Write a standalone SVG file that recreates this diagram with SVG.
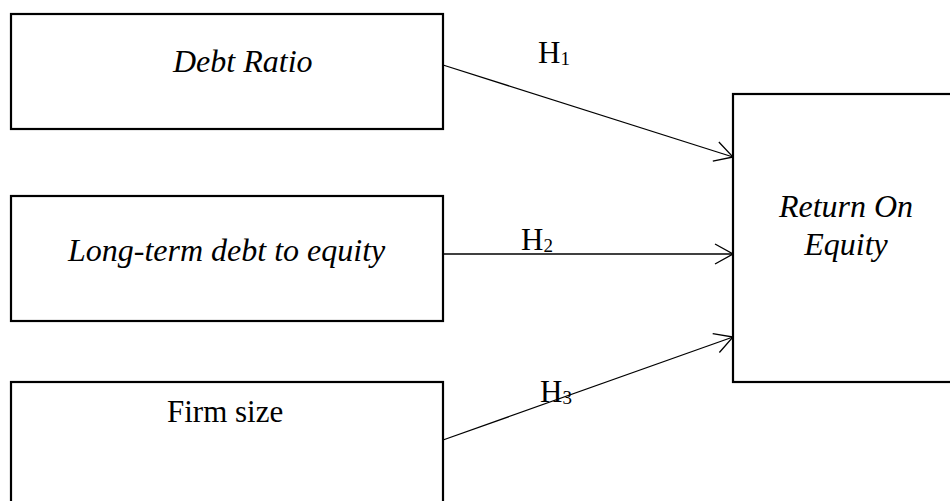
<svg xmlns="http://www.w3.org/2000/svg" width="950" height="501" viewBox="0 0 950 501">
<style>
.box{fill:#fff;stroke:#000;stroke-width:2.2}
.t{font-family:"Liberation Serif","Times New Roman",serif;font-size:31px;fill:#000}
.i{font-style:italic;font-size:32px}
.sub{font-size:19px}
.conn{stroke:#000;stroke-width:1.3;fill:none}
</style>
<defs>
<marker id="arr" markerWidth="20" markerHeight="22" refX="19" refY="11" orient="auto" markerUnits="userSpaceOnUse">
<path d="M1,1 L19,11 L1,21" fill="none" stroke="#000" stroke-width="1.3"/>
</marker>
</defs>
<rect width="950" height="501" fill="#fff"/>
<g id="debt-ratio">
<rect class="box" x="11" y="14" width="432" height="115"/>
<text class="t i" x="173" y="72">Debt Ratio</text>
</g>
<g id="long-term-debt">
<rect class="box" x="11" y="196" width="432" height="125"/>
<text class="t i" x="68" y="261">Long-term debt to equity</text>
</g>
<g id="firm-size">
<rect class="box" x="11" y="382" width="432" height="130"/>
<text class="t" x="167" y="422">Firm size</text>
</g>
<g id="roe">
<rect class="box" x="733" y="94" width="230" height="288"/>
<text class="t i" x="846" y="217" text-anchor="middle">Return On</text>
<text class="t i" x="846" y="255" text-anchor="middle">Equity</text>
</g>
<g id="connectors">
<line class="conn" x1="443" y1="65" x2="733" y2="157" marker-end="url(#arr)"/>
<line class="conn" x1="443" y1="254" x2="733" y2="254" marker-end="url(#arr)"/>
<line class="conn" x1="443" y1="440" x2="733" y2="337" marker-end="url(#arr)"/>
<text class="t" x="538" y="63">H<tspan class="sub" dy="2">1</tspan></text>
<text class="t" x="521" y="250">H<tspan class="sub" dy="2">2</tspan></text>
<text class="t" x="540" y="402">H<tspan class="sub" dy="2">3</tspan></text>
</g>
</svg>
